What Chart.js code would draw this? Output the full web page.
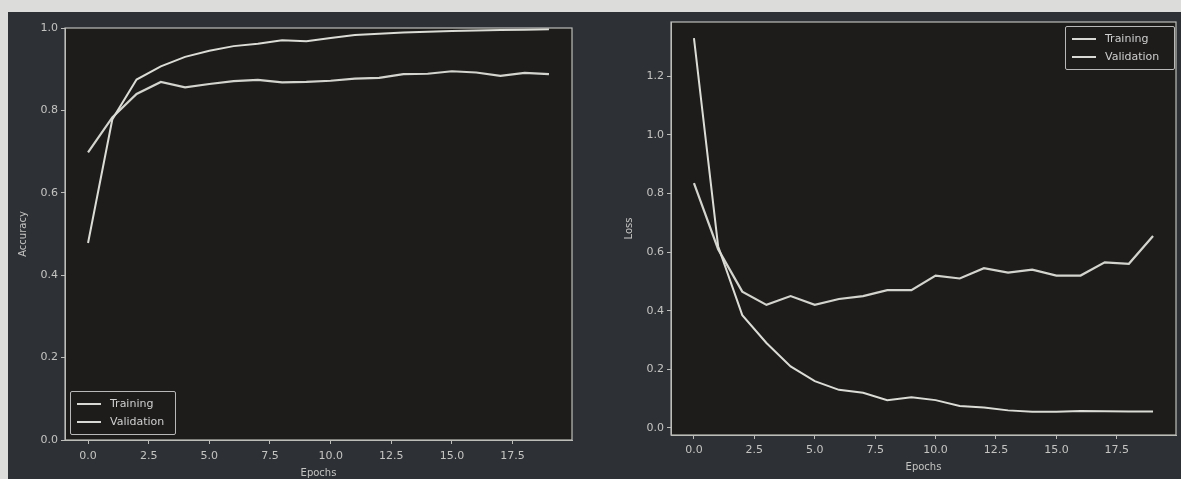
<!DOCTYPE html>
<html>
<head>
<meta charset="utf-8">
<script src="https://cdn.jsdelivr.net/npm/chart.js@4"></script>
<style>
  html, body { margin: 0; padding: 0; }
  body { width: 1181px; height: 479px; background: #dcdcda; position: relative; overflow: hidden; font-family: "DejaVu Sans", sans-serif; }
  #screen { position: absolute; left: 8px; top: 12px; right: 0; bottom: 0; background: #2d3035; }
  canvas { position: absolute; }
  .legend { position: absolute; border: 1px solid #b8b8b8; border-radius: 2px; padding: 3px 6px; color: #cfcfcf; font-size: 11px; }
  .legend div { height: 18px; line-height: 18px; white-space: nowrap; }
  .legend span.sw { display: inline-block; width: 24px; height: 2px; background: #d8d8d4; vertical-align: middle; margin-right: 9px; }
</style>
</head>
<body>
<div id="screen"></div>
<canvas id="accChart" width="590" height="467" style="left:0;top:12px;width:590px;height:467px"></canvas>
<canvas id="lossChart" width="591" height="467" style="left:590px;top:12px;width:591px;height:467px"></canvas>
<div class="legend" id="accLegend" style="left:70px;top:391px;width:92px"></div>
<div class="legend" id="lossLegend" style="left:1065px;top:26px;width:96px"></div>
<script>
'use strict';

// values
const epochs = [0, 1, 2, 3, 4, 5, 6, 7, 8, 9, 10, 11, 12, 13, 14, 15, 16, 17, 18, 19];
const seriesNames = ['Training', 'Validation'];
const accTrain = [0.478, 0.778, 0.875, 0.907, 0.930, 0.945, 0.956, 0.962, 0.970, 0.968, 0.976, 0.983, 0.986, 0.989, 0.991, 0.993, 0.994, 0.995, 0.996, 0.997];
const accVal = [0.698, 0.783, 0.840, 0.869, 0.856, 0.864, 0.871, 0.874, 0.868, 0.869, 0.872, 0.877, 0.879, 0.888, 0.889, 0.895, 0.892, 0.884, 0.891, 0.888];
const lossTrain = [1.33, 0.62, 0.385, 0.29, 0.21, 0.16, 0.13, 0.12, 0.095, 0.105, 0.095, 0.075, 0.07, 0.06, 0.055, 0.055, 0.058, 0.057, 0.056, 0.056];
const lossVal = [0.835, 0.61, 0.465, 0.42, 0.45, 0.42, 0.44, 0.45, 0.47, 0.47, 0.52, 0.51, 0.545, 0.53, 0.54, 0.52, 0.52, 0.565, 0.56, 0.655];
const xTicks = [0, 2.5, 5, 7.5, 10, 12.5, 15, 17.5];
const accTicks = [0, 0.2, 0.4, 0.6, 0.8, 1.0];
const lossTicks = [0, 0.2, 0.4, 0.6, 0.8, 1.0, 1.2];

const textColor = '#c4c4c2';
const spineColor = '#bcbcba';

Chart.defaults.font.family = '"DejaVu Sans", sans-serif';
Chart.defaults.font.size = 11;
Chart.defaults.color = textColor;

// dark axes background plus the four-sided frame
const axesBox = {
  id: 'axesBox',
  beforeDraw(chart) {
    const a = chart.chartArea;
    const ctx = chart.ctx;
    ctx.save();
    ctx.fillStyle = '#1d1c1b';
    ctx.fillRect(a.left, a.top, a.right - a.left, a.bottom - a.top);
    ctx.restore();
  },
  afterDraw(chart) {
    const a = chart.chartArea;
    const ctx = chart.ctx;
    ctx.save();
    ctx.strokeStyle = spineColor;
    ctx.lineWidth = 1.2;
    ctx.strokeRect(a.left, a.top, a.right - a.left, a.bottom - a.top);
    ctx.restore();
  }
};

function points(arr) {
  return epochs.map((e, i) => ({x: e, y: arr[i]}));
}

function makeChart(el, yLabel, train, val, yMin, yMax, yTicks, geo) {
  return new Chart(el, {
    type: 'line',
    data: {
      datasets: [{
        label: seriesNames[0],
        data: points(train),
        borderColor: '#dcdcd6',
        borderWidth: 2,
        pointRadius: 0,
        tension: 0,
      }, {
        label: seriesNames[1],
        data: points(val),
        borderColor: '#d4d4ce',
        borderWidth: 2.2,
        pointRadius: 0,
        tension: 0,
      }]
    },
    options: {
      responsive: false,
      animation: false,
      events: [],
      layout: {
        padding: {top: geo.top, right: geo.right, left: 0, bottom: 0}
      },
      plugins: {
        legend: {display: false},
        tooltip: {enabled: false},
      },
      scales: {
        x: {
          type: 'linear',
          min: -0.95,
          max: 19.95,
          afterBuildTicks: s => { s.ticks = xTicks.map(v => ({value: v})); },
          afterFit: s => { s.height = geo.xh; },
          grid: {drawOnChartArea: false, color: spineColor, tickLength: 4},
          border: {color: spineColor},
          ticks: {
            padding: geo.xpad,
            maxRotation: 0,
            callback: v => v.toFixed(1),
          },
          title: {display: true, text: 'Epochs', font: {size: 10}, padding: {top: 0, bottom: geo.xtb}},
        },
        y: {
          min: yMin,
          max: yMax,
          afterBuildTicks: s => { s.ticks = yTicks.map(v => ({value: v})); },
          afterFit: s => { s.width = geo.yw; },
          grid: {drawOnChartArea: false, color: spineColor, tickLength: 4},
          border: {color: spineColor},
          ticks: {
            padding: 3,
            callback: v => v.toFixed(1),
          },
          title: {display: true, text: yLabel, font: {size: 10}, padding: {top: geo.ytp, bottom: 0}},
        }
      }
    },
    plugins: [axesBox]
  });
}

makeChart(document.getElementById('accChart'), 'Accuracy', accTrain, accVal, 0, 1, accTicks,
  {top: 16, right: 18, yw: 65, xh: 39, xpad: 6, xtb: 0, ytp: 17});
makeChart(document.getElementById('lossChart'), 'Loss', lossTrain, lossVal, -0.024, 1.385, lossTicks,
  {top: 10, right: 5, yw: 81, xh: 44, xpad: 5, xtb: 6, ytp: 33});

function fillLegend(id) {
  const box = document.getElementById(id);
  seriesNames.forEach(name => {
    const row = document.createElement('div');
    const sw = document.createElement('span');
    sw.className = 'sw';
    row.appendChild(sw);
    row.appendChild(document.createTextNode(name));
    box.appendChild(row);
  });
}
fillLegend('accLegend');
fillLegend('lossLegend');
</script>
</body>
</html>
